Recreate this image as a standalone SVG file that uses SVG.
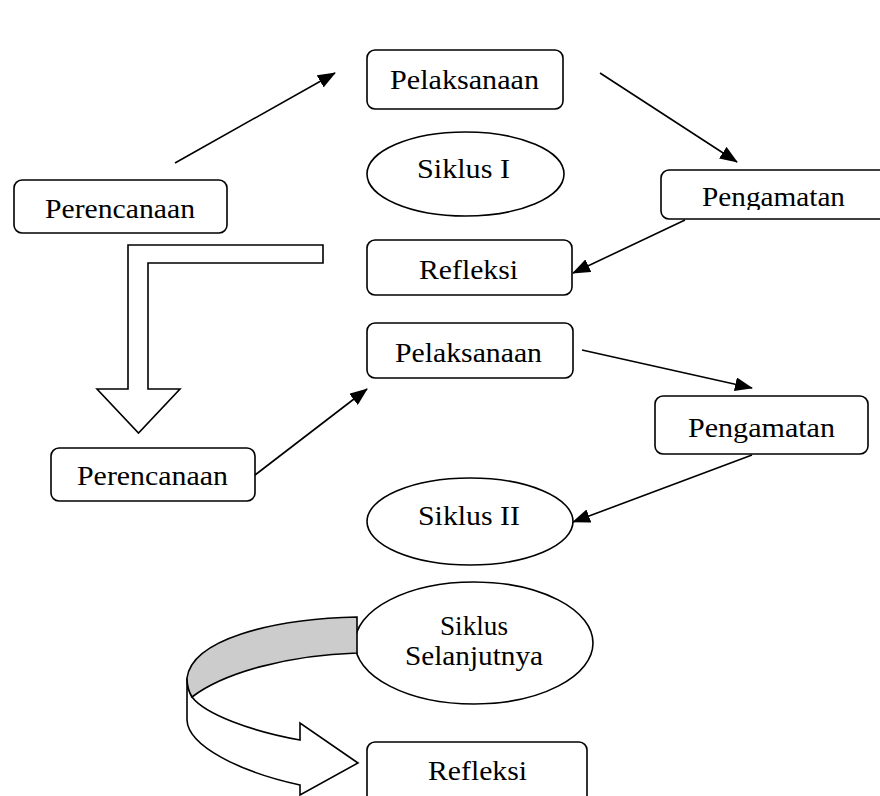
<svg xmlns="http://www.w3.org/2000/svg" width="880" height="796" viewBox="0 0 880 796">
<defs>
<style>
.box{fill:#fff;stroke:#000;stroke-width:1.6}
.lbl{font-family:"Liberation Serif","Times New Roman",serif;font-size:28px;fill:#000}
.conn{stroke:#000;stroke-width:1.6;fill:none;marker-end:url(#ah)}
.big{stroke:#000;stroke-width:1.6;stroke-linejoin:miter}
</style>
<marker id="ah" markerUnits="userSpaceOnUse" viewBox="0 0 18 14" refX="17" refY="7" markerWidth="18" markerHeight="14" orient="auto">
<path d="M0,0 L18,7 L0,14 Z" fill="#000"/>
</marker>
<clipPath id="cp1"><rect x="661" y="170" width="230" height="40"/></clipPath>
</defs>
<rect width="880" height="796" fill="#fff"/>

<g id="perencanaan1">
<rect class="box" x="14" y="180" width="213" height="53" rx="8"/>
<text class="lbl" x="45" y="218" textLength="150" lengthAdjust="spacingAndGlyphs">Perencanaan</text>
</g>
<g id="pelaksanaan1">
<rect class="box" x="367" y="50" width="196" height="59" rx="8"/>
<text class="lbl" x="390" y="89" textLength="149" lengthAdjust="spacingAndGlyphs">Pelaksanaan</text>
</g>
<g id="siklus1">
<ellipse class="box" cx="465.5" cy="174" rx="98.5" ry="42"/>
<text class="lbl" x="417" y="178" textLength="93" lengthAdjust="spacingAndGlyphs">Siklus I</text>
</g>
<g id="pengamatan1">
<rect class="box" x="661" y="170" width="240" height="49" rx="8"/>
<text class="lbl" x="702" y="206" textLength="143" lengthAdjust="spacingAndGlyphs" clip-path="url(#cp1)">Pengamatan</text>
</g>
<g id="refleksi1">
<rect class="box" x="367" y="240" width="205" height="55" rx="8"/>
<text class="lbl" x="419" y="279" textLength="99" lengthAdjust="spacingAndGlyphs">Refleksi</text>
</g>
<g id="perencanaan2">
<rect class="box" x="51" y="448" width="204" height="53" rx="8"/>
<text class="lbl" x="77" y="485" textLength="151" lengthAdjust="spacingAndGlyphs">Perencanaan</text>
</g>
<g id="pelaksanaan2">
<rect class="box" x="367" y="323" width="206" height="55" rx="8"/>
<text class="lbl" x="395" y="362" textLength="147" lengthAdjust="spacingAndGlyphs">Pelaksanaan</text>
</g>
<g id="pengamatan2">
<rect class="box" x="655" y="396" width="213" height="58" rx="8"/>
<text class="lbl" x="688" y="437" textLength="147" lengthAdjust="spacingAndGlyphs">Pengamatan</text>
</g>
<g id="siklus2">
<ellipse class="box" cx="470" cy="521.5" rx="103" ry="43.5"/>
<text class="lbl" x="418" y="525" textLength="102" lengthAdjust="spacingAndGlyphs">Siklus II</text>
</g>
<g id="siklus-selanjutnya">
<ellipse class="box" cx="474" cy="643" rx="119" ry="61"/>
<text class="lbl" x="440" y="635" textLength="68" lengthAdjust="spacingAndGlyphs">Siklus</text>
<text class="lbl" x="405" y="665" textLength="138" lengthAdjust="spacingAndGlyphs">Selanjutnya</text>
</g>
<g id="refleksi3">
<rect class="box" x="367" y="742" width="220" height="70" rx="8"/>
<text class="lbl" x="428" y="780" textLength="99" lengthAdjust="spacingAndGlyphs">Refleksi</text>
</g>

<g id="connectors">
<line class="conn" x1="175" y1="163" x2="335" y2="73"/>
<line class="conn" x1="600" y1="73" x2="737" y2="162"/>
<line class="conn" x1="685" y1="220" x2="573" y2="273"/>
<line class="conn" x1="255" y1="475" x2="367" y2="389"/>
<line class="conn" x1="582" y1="350" x2="752" y2="388"/>
<line class="conn" x1="752" y1="455" x2="573" y2="522"/>
<path class="big" fill="#fff" d="M128,245 L323,245 L323,263 L148,263 L148,389 L180,389 L138.5,433 L97,389 L128,389 Z"/>
<path class="big" fill="#fff" d="M187,678 L187,720 C188,746 240,772 300,785 L300,795 L358,763 L300,723 L300,740 C250,731 205,714 192,697 C189,692 187,685 187,678 Z"/>
<path class="big" fill="#cccccc" d="M357,617 C270,619 192,640 187,678 C187,685 189,692 192,697 C225,672 290,655 357,653 Z"/>
</g>
</svg>
